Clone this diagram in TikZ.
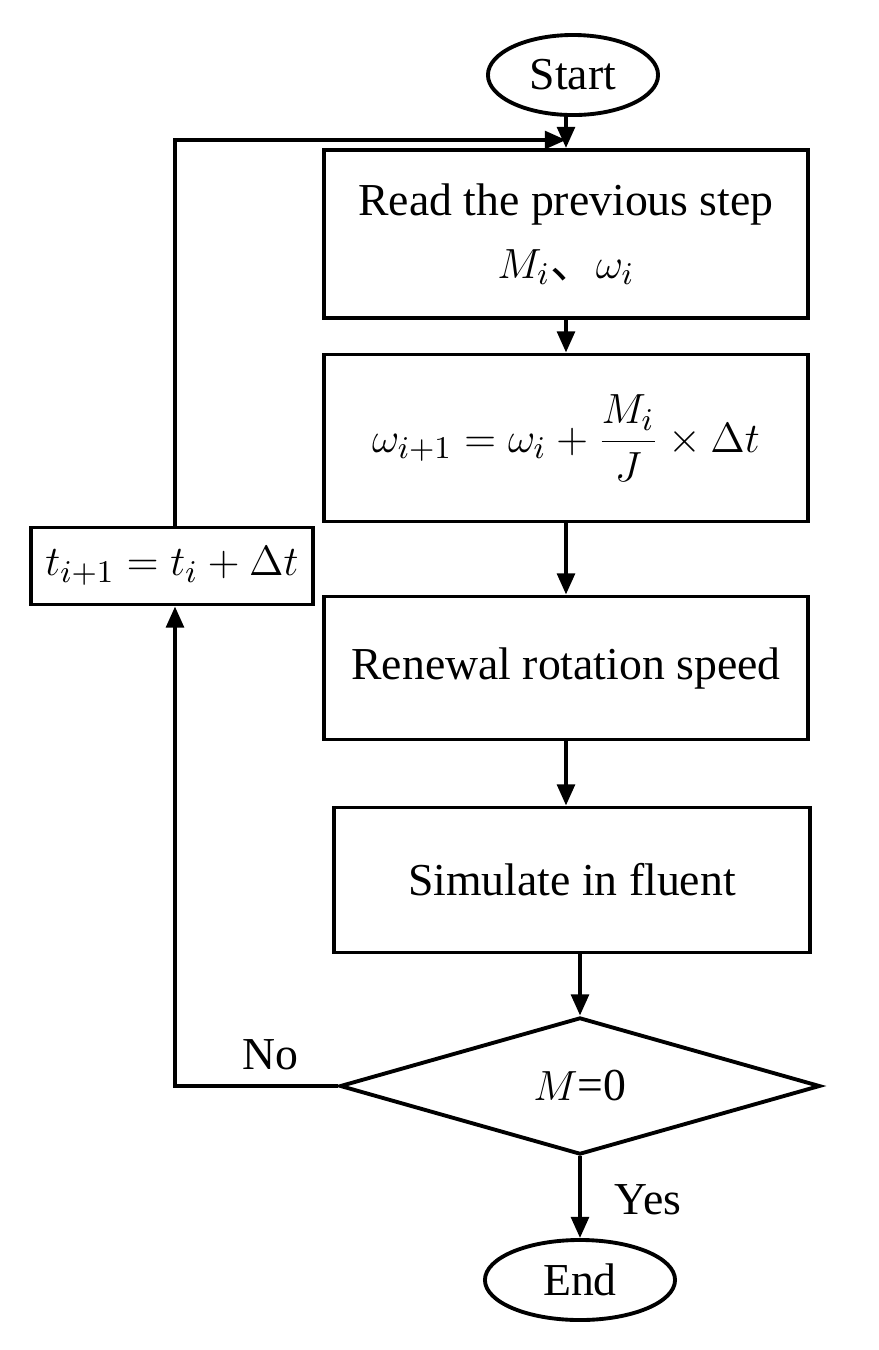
\documentclass[tikz,border=0pt]{standalone}
\usepackage{fontspec}
\setmainfont{Liberation Serif}
\newfontfamily\cjk{Noto Sans CJK SC}
\usetikzlibrary{shapes.geometric,arrows.meta}
\begin{document}
\begin{tikzpicture}[x=0.01cm,y=-0.01cm,
  box/.style={draw,line width=1.1pt,rectangle,inner sep=0pt,align=center,font=\fontsize{13}{16}\selectfont},
  term/.style={draw,line width=1.1pt,ellipse,inner sep=0pt,font=\fontsize{13}{16}\selectfont},
  arr/.style={line width=1.1pt,-{Triangle[length=6pt,width=5pt]}}]
\useasboundingbox (0,0) rectangle (879,1350);
\node[term,minimum width=1.7cm,minimum height=0.8cm] (start) at (573,75) {Start};
\node[box,minimum width=4.83cm,minimum height=1.68cm] (b1) at (566,234) {Read the previous step\\[2pt] $M_i${\cjk 、}$\omega_i$};
\node[box,minimum width=4.83cm,minimum height=1.67cm] (b2) at (566,438) {$\displaystyle\omega_{i+1}=\omega_i+\frac{M_i}{J}\times\Delta t$};
\node[box,minimum width=4.83cm,minimum height=1.43cm] (b3) at (566,668) {Renewal rotation speed};
\node[box,minimum width=4.75cm,minimum height=1.45cm] (b4) at (572,880) {Simulate in fluent};
\node[box,diamond,aspect=3.5,minimum width=4.8cm,minimum height=1.37cm,inner sep=0pt] (d) at (580,1086) {$M$=0};
\node[term,minimum width=1.9cm,minimum height=0.8cm] (end) at (580,1280) {End};
\node[box,minimum width=2.81cm,minimum height=0.77cm] (t) at (172,566) {$t_{i+1}=t_i+\Delta t$};
\coordinate (c1) at (175,1086);
\coordinate (c2) at (175,140);
\coordinate (c3) at (566,140);
\draw[arr] (start.south -| b1.north) -- (b1.north);
\draw[arr] (b1) -- (b2);
\draw[arr] (b2) -- (b3);
\draw[arr] (b3.south) -- (b3.south |- b4.north);
\draw[arr] (b4.south -| d.north) -- (d.north);
\draw[arr] (d.south) -- (end.north);
\draw[arr] (d.west) -- (c1) -- (t.south -| c1);
\draw[arr] (t.north -| c2) -- (c2) -- (c3);
\node[font=\fontsize{13}{16}\selectfont] (no) at (270,1055) {No};
\node[font=\fontsize{13}{16}\selectfont] (yes) at (648,1200) {Yes};
\end{tikzpicture}
\end{document}
